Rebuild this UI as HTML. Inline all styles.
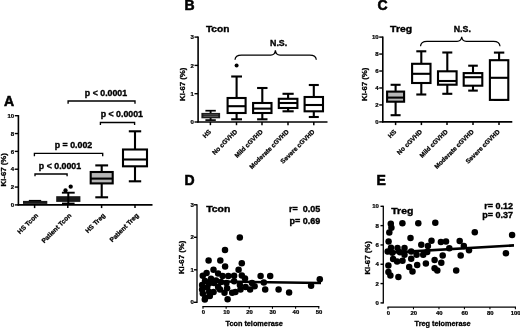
<!DOCTYPE html>
<html><head><meta charset="utf-8"><title>Figure</title>
<style>html,body{margin:0;padding:0;background:#fff;}svg{display:block;filter:grayscale(1) blur(0.35px);}</style>
</head><body>
<svg width="520" height="328" viewBox="0 0 520 328" font-family="Liberation Sans, sans-serif" font-weight="bold" fill="#000">
<rect width="520" height="328" fill="#fff"/>
<g>
<text x="4" y="105.5" font-size="14" text-anchor="start" stroke="#000" stroke-width="0.56" >A</text>
<line x1="18.40" y1="115.10" x2="18.40" y2="205.50" stroke="#000" stroke-width="1.6" stroke-linecap="butt"/>
<line x1="14.80" y1="204.90" x2="18.40" y2="204.90" stroke="#000" stroke-width="1.4" stroke-linecap="butt"/>
<text x="14.2" y="207.05" font-size="6.0" text-anchor="end" stroke="#000" stroke-width="0.24" >0</text>
<line x1="14.80" y1="187.06" x2="18.40" y2="187.06" stroke="#000" stroke-width="1.4" stroke-linecap="butt"/>
<text x="14.2" y="189.21" font-size="6.0" text-anchor="end" stroke="#000" stroke-width="0.24" >2</text>
<line x1="14.80" y1="169.22" x2="18.40" y2="169.22" stroke="#000" stroke-width="1.4" stroke-linecap="butt"/>
<text x="14.2" y="171.37" font-size="6.0" text-anchor="end" stroke="#000" stroke-width="0.24" >4</text>
<line x1="14.80" y1="151.38" x2="18.40" y2="151.38" stroke="#000" stroke-width="1.4" stroke-linecap="butt"/>
<text x="14.2" y="153.53" font-size="6.0" text-anchor="end" stroke="#000" stroke-width="0.24" >6</text>
<line x1="14.80" y1="133.54" x2="18.40" y2="133.54" stroke="#000" stroke-width="1.4" stroke-linecap="butt"/>
<text x="14.2" y="135.69000000000003" font-size="6.0" text-anchor="end" stroke="#000" stroke-width="0.24" >8</text>
<line x1="14.80" y1="115.70" x2="18.40" y2="115.70" stroke="#000" stroke-width="1.4" stroke-linecap="butt"/>
<text x="14.2" y="117.85000000000001" font-size="6.0" text-anchor="end" stroke="#000" stroke-width="0.24" >10</text>
<line x1="17.60" y1="204.90" x2="152.50" y2="204.90" stroke="#000" stroke-width="1.6" stroke-linecap="butt"/>
<text x="5.7" y="169.8" font-size="7.8" text-anchor="middle" transform="rotate(-90 5.7 169.8)" stroke="#000" stroke-width="0.31" >Ki-67 (%)</text>
<line x1="34.60" y1="204.90" x2="34.60" y2="208.10" stroke="#000" stroke-width="1.5" stroke-linecap="butt"/>
<line x1="67.80" y1="204.90" x2="67.80" y2="208.10" stroke="#000" stroke-width="1.5" stroke-linecap="butt"/>
<line x1="101.60" y1="204.90" x2="101.60" y2="208.10" stroke="#000" stroke-width="1.5" stroke-linecap="butt"/>
<line x1="135.00" y1="204.90" x2="135.00" y2="208.10" stroke="#000" stroke-width="1.5" stroke-linecap="butt"/>
<text x="38.6" y="215.9" font-size="6.6" text-anchor="end" transform="rotate(-45 38.6 215.9)" stroke="#000" stroke-width="0.26" >HS Tcon</text>
<text x="71.8" y="215.9" font-size="6.6" text-anchor="end" transform="rotate(-45 71.8 215.9)" stroke="#000" stroke-width="0.26" >Patient Tcon</text>
<text x="105.6" y="215.9" font-size="6.6" text-anchor="end" transform="rotate(-45 105.6 215.9)" stroke="#000" stroke-width="0.26" >HS Treg</text>
<text x="139" y="215.9" font-size="6.6" text-anchor="end" transform="rotate(-45 139 215.9)" stroke="#000" stroke-width="0.26" >Patient Treg</text>
<rect x="23" y="200.9" width="24.3" height="3.0" fill="#1a1a1a"/>
<line x1="28.80" y1="200.50" x2="41.20" y2="200.50" stroke="#000" stroke-width="1.2" stroke-linecap="butt"/>
<rect x="56.2" y="196.2" width="24.2" height="5.7" fill="#1a1a1a"/>
<line x1="68.30" y1="192.60" x2="68.30" y2="204.40" stroke="#000" stroke-width="2.0" stroke-linecap="butt"/>
<line x1="61.90" y1="192.70" x2="74.70" y2="192.70" stroke="#000" stroke-width="1.9" stroke-linecap="butt"/>
<line x1="62.00" y1="203.30" x2="74.60" y2="203.30" stroke="#000" stroke-width="1.4" stroke-linecap="butt"/>
<circle cx="65.50" cy="190.50" r="2.15" fill="#000"/>
<circle cx="70.70" cy="186.70" r="2.15" fill="#000"/>
<line x1="101.70" y1="165.40" x2="101.70" y2="172.00" stroke="#000" stroke-width="2.1" stroke-linecap="butt"/>
<line x1="101.70" y1="183.40" x2="101.70" y2="197.30" stroke="#000" stroke-width="2.1" stroke-linecap="butt"/>
<line x1="95.30" y1="165.40" x2="108.10" y2="165.40" stroke="#000" stroke-width="2.1" stroke-linecap="butt"/>
<line x1="95.30" y1="197.30" x2="108.10" y2="197.30" stroke="#000" stroke-width="2.1" stroke-linecap="butt"/>
<rect x="90.70" y="172.00" width="22.00" height="11.40" fill="#b6b6b6" stroke="#000" stroke-width="2.1"/>
<line x1="90.70" y1="178.60" x2="112.70" y2="178.60" stroke="#000" stroke-width="2.1" stroke-linecap="butt"/>
<line x1="135.00" y1="131.30" x2="135.00" y2="149.50" stroke="#000" stroke-width="2.1" stroke-linecap="butt"/>
<line x1="135.00" y1="166.30" x2="135.00" y2="181.30" stroke="#000" stroke-width="2.1" stroke-linecap="butt"/>
<line x1="128.80" y1="131.30" x2="141.20" y2="131.30" stroke="#000" stroke-width="2.1" stroke-linecap="butt"/>
<line x1="128.80" y1="181.30" x2="141.20" y2="181.30" stroke="#000" stroke-width="2.1" stroke-linecap="butt"/>
<rect x="123.00" y="149.50" width="24.00" height="16.80" fill="#fff" stroke="#000" stroke-width="2.1"/>
<line x1="123.00" y1="159.50" x2="147.00" y2="159.50" stroke="#000" stroke-width="2.1" stroke-linecap="butt"/>
<text x="106" y="96.3" font-size="8.8" text-anchor="middle" stroke="#000" stroke-width="0.35" >p &lt; 0.0001</text>
<path d="M68.10 103.70 V101.00 H135.00 V103.70" fill="none" stroke="#000" stroke-width="1.35"/>
<text x="121.8" y="117.3" font-size="8.8" text-anchor="middle" stroke="#000" stroke-width="0.35" >p &lt; 0.0001</text>
<path d="M100.40 125.00 V122.50 H134.60 V125.00" fill="none" stroke="#000" stroke-width="1.35"/>
<text x="73.5" y="148.1" font-size="8.8" text-anchor="middle" stroke="#000" stroke-width="0.35" >p = 0.002</text>
<path d="M34.40 156.20 V153.30 H102.70 V156.20" fill="none" stroke="#000" stroke-width="1.35"/>
<text x="60" y="168.7" font-size="8.8" text-anchor="middle" stroke="#000" stroke-width="0.35" >p &lt; 0.0001</text>
<path d="M35.00 176.30 V174.00 H67.10 V176.30" fill="none" stroke="#000" stroke-width="1.35"/>
<text x="184.5" y="10.3" font-size="14" text-anchor="start" stroke="#000" stroke-width="0.56" >B</text>
<text x="205.9" y="32.1" font-size="9.7" text-anchor="start" stroke="#000" stroke-width="0.39" textLength="23.5" lengthAdjust="spacingAndGlyphs">Tcon</text>
<line x1="198.10" y1="36.50" x2="198.10" y2="122.60" stroke="#000" stroke-width="1.6" stroke-linecap="butt"/>
<line x1="194.50" y1="122.00" x2="198.10" y2="122.00" stroke="#000" stroke-width="1.4" stroke-linecap="butt"/>
<text x="193.9" y="124.15" font-size="6.0" text-anchor="end" stroke="#000" stroke-width="0.24" >0</text>
<line x1="194.50" y1="93.70" x2="198.10" y2="93.70" stroke="#000" stroke-width="1.4" stroke-linecap="butt"/>
<text x="193.9" y="95.85000000000001" font-size="6.0" text-anchor="end" stroke="#000" stroke-width="0.24" >1</text>
<line x1="194.50" y1="65.40" x2="198.10" y2="65.40" stroke="#000" stroke-width="1.4" stroke-linecap="butt"/>
<text x="193.9" y="67.55000000000001" font-size="6.0" text-anchor="end" stroke="#000" stroke-width="0.24" >2</text>
<line x1="194.50" y1="37.10" x2="198.10" y2="37.10" stroke="#000" stroke-width="1.4" stroke-linecap="butt"/>
<text x="193.9" y="39.24999999999999" font-size="6.0" text-anchor="end" stroke="#000" stroke-width="0.24" >3</text>
<line x1="197.30" y1="122.00" x2="327.50" y2="122.00" stroke="#000" stroke-width="1.6" stroke-linecap="butt"/>
<text x="185" y="84.3" font-size="7.8" text-anchor="middle" transform="rotate(-90 185 84.3)" stroke="#000" stroke-width="0.31" >Ki-67 (%)</text>
<line x1="210.40" y1="122.00" x2="210.40" y2="125.20" stroke="#000" stroke-width="1.5" stroke-linecap="butt"/>
<text x="211.6" y="132.2" font-size="6.45" text-anchor="end" transform="rotate(-45 211.6 132.2)" stroke="#000" stroke-width="0.26" >HS</text>
<line x1="236.50" y1="122.00" x2="236.50" y2="125.20" stroke="#000" stroke-width="1.5" stroke-linecap="butt"/>
<text x="237.7" y="132.2" font-size="6.45" text-anchor="end" transform="rotate(-45 237.7 132.2)" stroke="#000" stroke-width="0.26" >No cGVHD</text>
<line x1="262.00" y1="122.00" x2="262.00" y2="125.20" stroke="#000" stroke-width="1.5" stroke-linecap="butt"/>
<text x="263.2" y="132.2" font-size="6.45" text-anchor="end" transform="rotate(-45 263.2 132.2)" stroke="#000" stroke-width="0.26" >Mild cGVHD</text>
<line x1="288.00" y1="122.00" x2="288.00" y2="125.20" stroke="#000" stroke-width="1.5" stroke-linecap="butt"/>
<text x="289.2" y="132.2" font-size="6.45" text-anchor="end" transform="rotate(-45 289.2 132.2)" stroke="#000" stroke-width="0.26" >Moderate cGVHD</text>
<line x1="313.80" y1="122.00" x2="313.80" y2="125.20" stroke="#000" stroke-width="1.5" stroke-linecap="butt"/>
<text x="315.0" y="132.2" font-size="6.45" text-anchor="end" transform="rotate(-45 315.0 132.2)" stroke="#000" stroke-width="0.26" >Severe cGVHD</text>
<line x1="210.60" y1="110.60" x2="210.60" y2="120.20" stroke="#000" stroke-width="1.9" stroke-linecap="butt"/>
<line x1="205.40" y1="110.70" x2="215.80" y2="110.70" stroke="#000" stroke-width="1.7" stroke-linecap="butt"/>
<line x1="205.40" y1="120.10" x2="215.80" y2="120.10" stroke="#000" stroke-width="1.7" stroke-linecap="butt"/>
<rect x="201.4" y="112.9" width="18.7" height="5.4" fill="#1c1c1c"/>
<rect x="203.4" y="114.6" width="14.7" height="0.6" fill="#777"/>
<rect x="203.4" y="116.3" width="14.7" height="0.6" fill="#777"/>
<line x1="236.60" y1="76.50" x2="236.60" y2="98.00" stroke="#000" stroke-width="2.1" stroke-linecap="butt"/>
<line x1="236.60" y1="113.00" x2="236.60" y2="119.30" stroke="#000" stroke-width="2.1" stroke-linecap="butt"/>
<line x1="231.20" y1="76.50" x2="242.00" y2="76.50" stroke="#000" stroke-width="2.1" stroke-linecap="butt"/>
<line x1="231.20" y1="119.30" x2="242.00" y2="119.30" stroke="#000" stroke-width="2.1" stroke-linecap="butt"/>
<rect x="227.60" y="98.00" width="18.00" height="15.00" fill="#fff" stroke="#000" stroke-width="2.1"/>
<line x1="227.60" y1="106.20" x2="245.60" y2="106.20" stroke="#000" stroke-width="2.1" stroke-linecap="butt"/>
<circle cx="236.60" cy="65.60" r="2.0" fill="#000"/>
<line x1="262.30" y1="88.00" x2="262.30" y2="103.00" stroke="#000" stroke-width="2.1" stroke-linecap="butt"/>
<line x1="262.30" y1="113.00" x2="262.30" y2="119.30" stroke="#000" stroke-width="2.1" stroke-linecap="butt"/>
<line x1="257.10" y1="88.00" x2="267.50" y2="88.00" stroke="#000" stroke-width="2.1" stroke-linecap="butt"/>
<line x1="257.10" y1="119.30" x2="267.50" y2="119.30" stroke="#000" stroke-width="2.1" stroke-linecap="butt"/>
<rect x="253.10" y="103.00" width="18.40" height="10.00" fill="#fff" stroke="#000" stroke-width="2.1"/>
<line x1="253.10" y1="108.60" x2="271.50" y2="108.60" stroke="#000" stroke-width="2.1" stroke-linecap="butt"/>
<line x1="288.10" y1="93.80" x2="288.10" y2="98.80" stroke="#000" stroke-width="2.1" stroke-linecap="butt"/>
<line x1="288.10" y1="108.00" x2="288.10" y2="111.30" stroke="#000" stroke-width="2.1" stroke-linecap="butt"/>
<line x1="282.50" y1="93.80" x2="293.70" y2="93.80" stroke="#000" stroke-width="2.1" stroke-linecap="butt"/>
<line x1="282.50" y1="111.30" x2="293.70" y2="111.30" stroke="#000" stroke-width="2.1" stroke-linecap="butt"/>
<rect x="278.80" y="98.80" width="18.60" height="9.20" fill="#fff" stroke="#000" stroke-width="2.1"/>
<line x1="278.80" y1="103.00" x2="297.40" y2="103.00" stroke="#000" stroke-width="2.1" stroke-linecap="butt"/>
<line x1="313.80" y1="85.00" x2="313.80" y2="97.00" stroke="#000" stroke-width="2.1" stroke-linecap="butt"/>
<line x1="313.80" y1="111.30" x2="313.80" y2="117.00" stroke="#000" stroke-width="2.1" stroke-linecap="butt"/>
<line x1="308.80" y1="85.00" x2="318.80" y2="85.00" stroke="#000" stroke-width="2.1" stroke-linecap="butt"/>
<line x1="308.80" y1="117.00" x2="318.80" y2="117.00" stroke="#000" stroke-width="2.1" stroke-linecap="butt"/>
<rect x="304.60" y="97.00" width="18.40" height="14.30" fill="#fff" stroke="#000" stroke-width="2.1"/>
<line x1="304.60" y1="105.00" x2="323.00" y2="105.00" stroke="#000" stroke-width="2.1" stroke-linecap="butt"/>
<text x="278.6" y="45.8" font-size="8.8" text-anchor="middle" stroke="#000" stroke-width="0.35" >N.S.</text>
<path d="M235.00 59.80 Q235.30 55.00 241.50 55.00 H270.80 Q275.00 55.00 275.40 50.20 Q275.80 55.00 280.00 55.00 H309.80 Q316.00 55.00 316.30 59.80" fill="none" stroke="#000" stroke-width="1.25"/>
<text x="377.5" y="10.3" font-size="14" text-anchor="start" stroke="#000" stroke-width="0.56" >C</text>
<text x="390.1" y="32.1" font-size="9.7" text-anchor="start" stroke="#000" stroke-width="0.39" textLength="22" lengthAdjust="spacingAndGlyphs">Treg</text>
<line x1="382.80" y1="36.50" x2="382.80" y2="122.50" stroke="#000" stroke-width="1.6" stroke-linecap="butt"/>
<line x1="379.20" y1="121.90" x2="382.80" y2="121.90" stroke="#000" stroke-width="1.4" stroke-linecap="butt"/>
<text x="378.6" y="124.05000000000001" font-size="6.0" text-anchor="end" stroke="#000" stroke-width="0.24" >0</text>
<line x1="379.20" y1="104.94" x2="382.80" y2="104.94" stroke="#000" stroke-width="1.4" stroke-linecap="butt"/>
<text x="378.6" y="107.09" font-size="6.0" text-anchor="end" stroke="#000" stroke-width="0.24" >2</text>
<line x1="379.20" y1="87.98" x2="382.80" y2="87.98" stroke="#000" stroke-width="1.4" stroke-linecap="butt"/>
<text x="378.6" y="90.13000000000001" font-size="6.0" text-anchor="end" stroke="#000" stroke-width="0.24" >4</text>
<line x1="379.20" y1="71.02" x2="382.80" y2="71.02" stroke="#000" stroke-width="1.4" stroke-linecap="butt"/>
<text x="378.6" y="73.17000000000002" font-size="6.0" text-anchor="end" stroke="#000" stroke-width="0.24" >6</text>
<line x1="379.20" y1="54.06" x2="382.80" y2="54.06" stroke="#000" stroke-width="1.4" stroke-linecap="butt"/>
<text x="378.6" y="56.21" font-size="6.0" text-anchor="end" stroke="#000" stroke-width="0.24" >8</text>
<line x1="379.20" y1="37.10" x2="382.80" y2="37.10" stroke="#000" stroke-width="1.4" stroke-linecap="butt"/>
<text x="378.6" y="39.24999999999999" font-size="6.0" text-anchor="end" stroke="#000" stroke-width="0.24" >10</text>
<line x1="382.00" y1="121.90" x2="512.30" y2="121.90" stroke="#000" stroke-width="1.6" stroke-linecap="butt"/>
<text x="367" y="84.3" font-size="7.8" text-anchor="middle" transform="rotate(-90 367 84.3)" stroke="#000" stroke-width="0.31" >Ki-67 (%)</text>
<line x1="395.60" y1="121.90" x2="395.60" y2="125.10" stroke="#000" stroke-width="1.5" stroke-linecap="butt"/>
<text x="396.8" y="132.1" font-size="6.45" text-anchor="end" transform="rotate(-45 396.8 132.1)" stroke="#000" stroke-width="0.26" >HS</text>
<line x1="421.40" y1="121.90" x2="421.40" y2="125.10" stroke="#000" stroke-width="1.5" stroke-linecap="butt"/>
<text x="422.59999999999997" y="132.1" font-size="6.45" text-anchor="end" transform="rotate(-45 422.59999999999997 132.1)" stroke="#000" stroke-width="0.26" >No cGVHD</text>
<line x1="447.00" y1="121.90" x2="447.00" y2="125.10" stroke="#000" stroke-width="1.5" stroke-linecap="butt"/>
<text x="448.2" y="132.1" font-size="6.45" text-anchor="end" transform="rotate(-45 448.2 132.1)" stroke="#000" stroke-width="0.26" >Mild cGVHD</text>
<line x1="473.00" y1="121.90" x2="473.00" y2="125.10" stroke="#000" stroke-width="1.5" stroke-linecap="butt"/>
<text x="474.2" y="132.1" font-size="6.45" text-anchor="end" transform="rotate(-45 474.2 132.1)" stroke="#000" stroke-width="0.26" >Moderate cGVHD</text>
<line x1="499.00" y1="121.90" x2="499.00" y2="125.10" stroke="#000" stroke-width="1.5" stroke-linecap="butt"/>
<text x="500.2" y="132.1" font-size="6.45" text-anchor="end" transform="rotate(-45 500.2 132.1)" stroke="#000" stroke-width="0.26" >Severe cGVHD</text>
<line x1="395.60" y1="84.80" x2="395.60" y2="91.60" stroke="#000" stroke-width="2.1" stroke-linecap="butt"/>
<line x1="395.60" y1="101.70" x2="395.60" y2="115.20" stroke="#000" stroke-width="2.1" stroke-linecap="butt"/>
<line x1="390.60" y1="84.80" x2="400.60" y2="84.80" stroke="#000" stroke-width="2.1" stroke-linecap="butt"/>
<line x1="390.60" y1="115.20" x2="400.60" y2="115.20" stroke="#000" stroke-width="2.1" stroke-linecap="butt"/>
<rect x="387.10" y="91.60" width="17.00" height="10.10" fill="#b6b6b6" stroke="#000" stroke-width="2.1"/>
<line x1="387.10" y1="97.60" x2="404.10" y2="97.60" stroke="#000" stroke-width="2.1" stroke-linecap="butt"/>
<line x1="421.30" y1="51.30" x2="421.30" y2="63.80" stroke="#000" stroke-width="2.1" stroke-linecap="butt"/>
<line x1="421.30" y1="83.00" x2="421.30" y2="94.50" stroke="#000" stroke-width="2.1" stroke-linecap="butt"/>
<line x1="416.30" y1="51.30" x2="426.30" y2="51.30" stroke="#000" stroke-width="2.1" stroke-linecap="butt"/>
<line x1="416.30" y1="94.50" x2="426.30" y2="94.50" stroke="#000" stroke-width="2.1" stroke-linecap="butt"/>
<rect x="412.10" y="63.80" width="18.40" height="19.20" fill="#fff" stroke="#000" stroke-width="2.1"/>
<line x1="412.10" y1="73.80" x2="430.50" y2="73.80" stroke="#000" stroke-width="2.1" stroke-linecap="butt"/>
<line x1="447.30" y1="52.50" x2="447.30" y2="71.30" stroke="#000" stroke-width="2.1" stroke-linecap="butt"/>
<line x1="447.30" y1="84.70" x2="447.30" y2="93.80" stroke="#000" stroke-width="2.1" stroke-linecap="butt"/>
<line x1="442.30" y1="52.50" x2="452.30" y2="52.50" stroke="#000" stroke-width="2.1" stroke-linecap="butt"/>
<line x1="442.30" y1="93.80" x2="452.30" y2="93.80" stroke="#000" stroke-width="2.1" stroke-linecap="butt"/>
<rect x="438.00" y="71.30" width="18.60" height="13.40" fill="#fff" stroke="#000" stroke-width="2.1"/>
<line x1="438.00" y1="81.00" x2="456.60" y2="81.00" stroke="#000" stroke-width="2.1" stroke-linecap="butt"/>
<line x1="473.00" y1="65.70" x2="473.00" y2="73.10" stroke="#000" stroke-width="2.1" stroke-linecap="butt"/>
<line x1="473.00" y1="85.70" x2="473.00" y2="90.60" stroke="#000" stroke-width="2.1" stroke-linecap="butt"/>
<line x1="468.20" y1="65.70" x2="477.80" y2="65.70" stroke="#000" stroke-width="2.1" stroke-linecap="butt"/>
<line x1="468.20" y1="90.60" x2="477.80" y2="90.60" stroke="#000" stroke-width="2.1" stroke-linecap="butt"/>
<rect x="463.70" y="73.10" width="18.60" height="12.60" fill="#fff" stroke="#000" stroke-width="2.1"/>
<line x1="463.70" y1="77.20" x2="482.30" y2="77.20" stroke="#000" stroke-width="2.1" stroke-linecap="butt"/>
<line x1="499.10" y1="52.60" x2="499.10" y2="60.20" stroke="#000" stroke-width="2.1" stroke-linecap="butt"/>
<line x1="499.10" y1="99.90" x2="499.10" y2="99.90" stroke="#000" stroke-width="2.1" stroke-linecap="butt"/>
<line x1="493.90" y1="52.60" x2="504.30" y2="52.60" stroke="#000" stroke-width="2.1" stroke-linecap="butt"/>
<line x1="493.90" y1="99.90" x2="504.30" y2="99.90" stroke="#000" stroke-width="2.1" stroke-linecap="butt"/>
<rect x="489.90" y="60.20" width="18.40" height="39.70" fill="#fff" stroke="#000" stroke-width="2.1"/>
<line x1="489.90" y1="77.80" x2="508.30" y2="77.80" stroke="#000" stroke-width="2.1" stroke-linecap="butt"/>
<text x="462.3" y="32.4" font-size="8.8" text-anchor="middle" stroke="#000" stroke-width="0.35" >N.S.</text>
<path d="M420.50 46.30 Q420.80 41.30 427.00 41.30 H457.10 Q461.30 41.30 461.70 36.80 Q462.10 41.30 466.30 41.30 H493.50 Q499.70 41.30 500.00 46.30" fill="none" stroke="#000" stroke-width="1.25"/>
<text x="184.5" y="185.3" font-size="14" text-anchor="start" stroke="#000" stroke-width="0.56" >D</text>
<text x="206.2" y="211.7" font-size="9.7" text-anchor="start" stroke="#000" stroke-width="0.39" textLength="24.2" lengthAdjust="spacingAndGlyphs">Tcon</text>
<line x1="197.00" y1="204.20" x2="197.00" y2="302.90" stroke="#000" stroke-width="1.3" stroke-linecap="butt"/>
<line x1="193.90" y1="302.30" x2="197.00" y2="302.30" stroke="#000" stroke-width="1.4" stroke-linecap="butt"/>
<text x="193.8" y="304.45" font-size="6.0" text-anchor="end" stroke="#000" stroke-width="0.24" >0</text>
<line x1="193.90" y1="269.80" x2="197.00" y2="269.80" stroke="#000" stroke-width="1.4" stroke-linecap="butt"/>
<text x="193.8" y="271.95" font-size="6.0" text-anchor="end" stroke="#000" stroke-width="0.24" >1</text>
<line x1="193.90" y1="237.30" x2="197.00" y2="237.30" stroke="#000" stroke-width="1.4" stroke-linecap="butt"/>
<text x="193.8" y="239.45000000000002" font-size="6.0" text-anchor="end" stroke="#000" stroke-width="0.24" >2</text>
<line x1="193.90" y1="204.80" x2="197.00" y2="204.80" stroke="#000" stroke-width="1.4" stroke-linecap="butt"/>
<text x="193.8" y="206.95000000000002" font-size="6.0" text-anchor="end" stroke="#000" stroke-width="0.24" >3</text>
<line x1="202.40" y1="306.60" x2="319.35" y2="306.60" stroke="#000" stroke-width="1.2" stroke-linecap="butt"/>
<line x1="203.00" y1="306.60" x2="203.00" y2="308.80" stroke="#000" stroke-width="1.1" stroke-linecap="butt"/>
<text x="203.3" y="314.20000000000005" font-size="5.9" text-anchor="middle" stroke="#000" stroke-width="0.24" >0</text>
<line x1="226.15" y1="306.60" x2="226.15" y2="308.80" stroke="#000" stroke-width="1.1" stroke-linecap="butt"/>
<text x="226.45000000000002" y="314.20000000000005" font-size="5.9" text-anchor="middle" stroke="#000" stroke-width="0.24" >10</text>
<line x1="249.30" y1="306.60" x2="249.30" y2="308.80" stroke="#000" stroke-width="1.1" stroke-linecap="butt"/>
<text x="249.60000000000002" y="314.20000000000005" font-size="5.9" text-anchor="middle" stroke="#000" stroke-width="0.24" >20</text>
<line x1="272.45" y1="306.60" x2="272.45" y2="308.80" stroke="#000" stroke-width="1.1" stroke-linecap="butt"/>
<text x="272.75" y="314.20000000000005" font-size="5.9" text-anchor="middle" stroke="#000" stroke-width="0.24" >30</text>
<line x1="295.60" y1="306.60" x2="295.60" y2="308.80" stroke="#000" stroke-width="1.1" stroke-linecap="butt"/>
<text x="295.90000000000003" y="314.20000000000005" font-size="5.9" text-anchor="middle" stroke="#000" stroke-width="0.24" >40</text>
<line x1="318.75" y1="306.60" x2="318.75" y2="308.80" stroke="#000" stroke-width="1.1" stroke-linecap="butt"/>
<text x="319.05" y="314.20000000000005" font-size="5.9" text-anchor="middle" stroke="#000" stroke-width="0.24" >50</text>
<text x="184" y="257.4" font-size="7.8" text-anchor="middle" transform="rotate(-90 184 257.4)" stroke="#000" stroke-width="0.31" >Ki-67 (%)</text>
<text x="254.2" y="325.8" font-size="7.3" text-anchor="middle" stroke="#000" stroke-width="0.29" >Tcon telomerase</text>
<text x="289.1" y="212.4" font-size="9.0" text-anchor="start" stroke="#000" stroke-width="0.36" >r=</text>
<text x="320.2" y="212.4" font-size="9.0" text-anchor="end" stroke="#000" stroke-width="0.36" >0.05</text>
<text x="320.2" y="223.6" font-size="9.0" text-anchor="end" stroke="#000" stroke-width="0.36" >p= 0.69</text>
<circle cx="239.80" cy="237.60" r="3.25" fill="#000"/>
<circle cx="225.00" cy="250.00" r="3.25" fill="#000"/>
<circle cx="208.60" cy="260.40" r="3.25" fill="#000"/>
<circle cx="220.30" cy="260.40" r="3.25" fill="#000"/>
<circle cx="241.80" cy="263.20" r="3.25" fill="#000"/>
<circle cx="225.10" cy="266.60" r="3.25" fill="#000"/>
<circle cx="213.50" cy="269.80" r="3.25" fill="#000"/>
<circle cx="238.60" cy="269.80" r="3.25" fill="#000"/>
<circle cx="206.60" cy="272.90" r="3.25" fill="#000"/>
<circle cx="218.10" cy="273.50" r="3.25" fill="#000"/>
<circle cx="202.80" cy="275.80" r="3.25" fill="#000"/>
<circle cx="222.60" cy="276.10" r="3.25" fill="#000"/>
<circle cx="228.30" cy="276.10" r="3.25" fill="#000"/>
<circle cx="234.10" cy="275.80" r="3.25" fill="#000"/>
<circle cx="241.80" cy="275.40" r="3.25" fill="#000"/>
<circle cx="260.60" cy="276.10" r="3.25" fill="#000"/>
<circle cx="270.20" cy="276.10" r="3.25" fill="#000"/>
<circle cx="245.00" cy="278.60" r="3.25" fill="#000"/>
<circle cx="211.00" cy="278.80" r="3.25" fill="#000"/>
<circle cx="226.40" cy="283.10" r="3.25" fill="#000"/>
<circle cx="234.10" cy="281.20" r="3.25" fill="#000"/>
<circle cx="252.00" cy="283.10" r="3.25" fill="#000"/>
<circle cx="263.80" cy="282.50" r="3.25" fill="#000"/>
<circle cx="202.10" cy="285.00" r="3.25" fill="#000"/>
<circle cx="207.20" cy="287.60" r="3.25" fill="#000"/>
<circle cx="218.10" cy="287.00" r="3.25" fill="#000"/>
<circle cx="227.10" cy="288.20" r="3.25" fill="#000"/>
<circle cx="239.90" cy="285.00" r="3.25" fill="#000"/>
<circle cx="245.60" cy="287.00" r="3.25" fill="#000"/>
<circle cx="254.60" cy="286.30" r="3.25" fill="#000"/>
<circle cx="202.10" cy="289.50" r="3.25" fill="#000"/>
<circle cx="220.00" cy="289.50" r="3.25" fill="#000"/>
<circle cx="240.50" cy="289.50" r="3.25" fill="#000"/>
<circle cx="250.10" cy="289.50" r="3.25" fill="#000"/>
<circle cx="265.20" cy="289.60" r="3.25" fill="#000"/>
<circle cx="278.60" cy="289.60" r="3.25" fill="#000"/>
<circle cx="209.20" cy="292.10" r="3.25" fill="#000"/>
<circle cx="213.60" cy="292.10" r="3.25" fill="#000"/>
<circle cx="224.50" cy="292.70" r="3.25" fill="#000"/>
<circle cx="232.20" cy="292.70" r="3.25" fill="#000"/>
<circle cx="235.40" cy="292.10" r="3.25" fill="#000"/>
<circle cx="289.10" cy="292.50" r="3.25" fill="#000"/>
<circle cx="202.80" cy="293.40" r="3.25" fill="#000"/>
<circle cx="209.80" cy="295.90" r="3.25" fill="#000"/>
<circle cx="205.30" cy="297.80" r="3.25" fill="#000"/>
<circle cx="227.60" cy="299.20" r="3.25" fill="#000"/>
<circle cx="319.80" cy="279.20" r="3.25" fill="#000"/>
<circle cx="311.10" cy="285.70" r="3.25" fill="#000"/>
<circle cx="205.00" cy="281.00" r="3.25" fill="#000"/>
<circle cx="214.00" cy="283.00" r="3.25" fill="#000"/>
<circle cx="209.00" cy="283.50" r="3.25" fill="#000"/>
<circle cx="221.00" cy="282.00" r="3.25" fill="#000"/>
<circle cx="216.00" cy="280.50" r="3.25" fill="#000"/>
<circle cx="204.80" cy="299.40" r="3.25" fill="#000"/>
<line x1="202.80" y1="281.30" x2="321.00" y2="283.00" stroke="#000" stroke-width="2.5" stroke-linecap="butt"/>
<text x="376.5" y="185.3" font-size="14" text-anchor="start" stroke="#000" stroke-width="0.56" >E</text>
<text x="391.3" y="213.7" font-size="9.7" text-anchor="start" stroke="#000" stroke-width="0.39" textLength="22" lengthAdjust="spacingAndGlyphs">Treg</text>
<line x1="383.30" y1="205.70" x2="383.30" y2="303.50" stroke="#000" stroke-width="1.3" stroke-linecap="butt"/>
<line x1="380.50" y1="302.90" x2="383.30" y2="302.90" stroke="#000" stroke-width="1.4" stroke-linecap="butt"/>
<text x="378.90000000000003" y="305.04999999999995" font-size="6.0" text-anchor="end" stroke="#000" stroke-width="0.24" >0</text>
<line x1="380.50" y1="283.58" x2="383.30" y2="283.58" stroke="#000" stroke-width="1.4" stroke-linecap="butt"/>
<text x="378.90000000000003" y="285.72999999999996" font-size="6.0" text-anchor="end" stroke="#000" stroke-width="0.24" >2</text>
<line x1="380.50" y1="264.26" x2="383.30" y2="264.26" stroke="#000" stroke-width="1.4" stroke-linecap="butt"/>
<text x="378.90000000000003" y="266.40999999999997" font-size="6.0" text-anchor="end" stroke="#000" stroke-width="0.24" >4</text>
<line x1="380.50" y1="244.94" x2="383.30" y2="244.94" stroke="#000" stroke-width="1.4" stroke-linecap="butt"/>
<text x="378.90000000000003" y="247.08999999999997" font-size="6.0" text-anchor="end" stroke="#000" stroke-width="0.24" >6</text>
<line x1="380.50" y1="225.62" x2="383.30" y2="225.62" stroke="#000" stroke-width="1.4" stroke-linecap="butt"/>
<text x="378.90000000000003" y="227.76999999999998" font-size="6.0" text-anchor="end" stroke="#000" stroke-width="0.24" >8</text>
<line x1="380.50" y1="206.30" x2="383.30" y2="206.30" stroke="#000" stroke-width="1.4" stroke-linecap="butt"/>
<text x="378.90000000000003" y="208.45" font-size="6.0" text-anchor="end" stroke="#000" stroke-width="0.24" >10</text>
<line x1="387.40" y1="307.10" x2="516.00" y2="307.10" stroke="#000" stroke-width="1.2" stroke-linecap="butt"/>
<line x1="388.00" y1="307.10" x2="388.00" y2="309.30" stroke="#000" stroke-width="1.1" stroke-linecap="butt"/>
<text x="388.3" y="315.1" font-size="5.9" text-anchor="middle" stroke="#000" stroke-width="0.24" >0</text>
<line x1="413.48" y1="307.10" x2="413.48" y2="309.30" stroke="#000" stroke-width="1.1" stroke-linecap="butt"/>
<text x="413.78000000000003" y="315.1" font-size="5.9" text-anchor="middle" stroke="#000" stroke-width="0.24" >20</text>
<line x1="438.96" y1="307.10" x2="438.96" y2="309.30" stroke="#000" stroke-width="1.1" stroke-linecap="butt"/>
<text x="439.26" y="315.1" font-size="5.9" text-anchor="middle" stroke="#000" stroke-width="0.24" >40</text>
<line x1="464.44" y1="307.10" x2="464.44" y2="309.30" stroke="#000" stroke-width="1.1" stroke-linecap="butt"/>
<text x="464.74" y="315.1" font-size="5.9" text-anchor="middle" stroke="#000" stroke-width="0.24" >60</text>
<line x1="489.92" y1="307.10" x2="489.92" y2="309.30" stroke="#000" stroke-width="1.1" stroke-linecap="butt"/>
<text x="490.22" y="315.1" font-size="5.9" text-anchor="middle" stroke="#000" stroke-width="0.24" >80</text>
<line x1="515.40" y1="307.10" x2="515.40" y2="309.30" stroke="#000" stroke-width="1.1" stroke-linecap="butt"/>
<text x="515.6999999999999" y="315.1" font-size="5.9" text-anchor="middle" stroke="#000" stroke-width="0.24" >100</text>
<text x="370" y="257.9" font-size="7.8" text-anchor="middle" transform="rotate(-90 370 257.9)" stroke="#000" stroke-width="0.31" >Ki-67 (%)</text>
<text x="442.6" y="326.1" font-size="7.3" text-anchor="middle" stroke="#000" stroke-width="0.29" >Treg telomerase</text>
<text x="513.1" y="209.1" font-size="9.0" text-anchor="end" stroke="#000" stroke-width="0.36" >r= 0.12</text>
<text x="513.1" y="218.2" font-size="9.0" text-anchor="end" stroke="#000" stroke-width="0.36" >p= 0.37</text>
<circle cx="390.80" cy="223.70" r="3.25" fill="#000"/>
<circle cx="402.40" cy="223.30" r="3.25" fill="#000"/>
<circle cx="418.30" cy="223.30" r="3.25" fill="#000"/>
<circle cx="435.30" cy="222.70" r="3.25" fill="#000"/>
<circle cx="391.40" cy="227.80" r="3.25" fill="#000"/>
<circle cx="389.30" cy="232.60" r="3.25" fill="#000"/>
<circle cx="474.80" cy="232.20" r="3.25" fill="#000"/>
<circle cx="512.10" cy="235.10" r="3.25" fill="#000"/>
<circle cx="410.50" cy="238.00" r="3.25" fill="#000"/>
<circle cx="388.60" cy="241.40" r="3.25" fill="#000"/>
<circle cx="431.50" cy="240.70" r="3.25" fill="#000"/>
<circle cx="440.90" cy="242.00" r="3.25" fill="#000"/>
<circle cx="446.00" cy="241.40" r="3.25" fill="#000"/>
<circle cx="459.70" cy="240.90" r="3.25" fill="#000"/>
<circle cx="421.30" cy="244.70" r="3.25" fill="#000"/>
<circle cx="427.90" cy="246.10" r="3.25" fill="#000"/>
<circle cx="463.80" cy="246.10" r="3.25" fill="#000"/>
<circle cx="391.00" cy="247.80" r="3.25" fill="#000"/>
<circle cx="397.50" cy="248.10" r="3.25" fill="#000"/>
<circle cx="404.50" cy="248.10" r="3.25" fill="#000"/>
<circle cx="449.30" cy="248.20" r="3.25" fill="#000"/>
<circle cx="469.00" cy="250.20" r="3.25" fill="#000"/>
<circle cx="387.70" cy="251.40" r="3.25" fill="#000"/>
<circle cx="411.20" cy="251.40" r="3.25" fill="#000"/>
<circle cx="427.20" cy="252.10" r="3.25" fill="#000"/>
<circle cx="392.40" cy="252.80" r="3.25" fill="#000"/>
<circle cx="400.00" cy="252.30" r="3.25" fill="#000"/>
<circle cx="416.60" cy="254.80" r="3.25" fill="#000"/>
<circle cx="423.20" cy="254.80" r="3.25" fill="#000"/>
<circle cx="404.50" cy="254.80" r="3.25" fill="#000"/>
<circle cx="442.70" cy="255.40" r="3.25" fill="#000"/>
<circle cx="460.70" cy="255.40" r="3.25" fill="#000"/>
<circle cx="505.90" cy="253.30" r="3.25" fill="#000"/>
<circle cx="411.20" cy="258.80" r="3.25" fill="#000"/>
<circle cx="434.60" cy="260.10" r="3.25" fill="#000"/>
<circle cx="393.10" cy="259.10" r="3.25" fill="#000"/>
<circle cx="397.10" cy="261.50" r="3.25" fill="#000"/>
<circle cx="402.50" cy="260.80" r="3.25" fill="#000"/>
<circle cx="425.90" cy="263.50" r="3.25" fill="#000"/>
<circle cx="441.30" cy="262.80" r="3.25" fill="#000"/>
<circle cx="417.20" cy="264.90" r="3.25" fill="#000"/>
<circle cx="388.40" cy="265.50" r="3.25" fill="#000"/>
<circle cx="409.20" cy="266.90" r="3.25" fill="#000"/>
<circle cx="434.60" cy="268.20" r="3.25" fill="#000"/>
<circle cx="437.30" cy="270.60" r="3.25" fill="#000"/>
<circle cx="412.50" cy="271.60" r="3.25" fill="#000"/>
<circle cx="388.40" cy="272.00" r="3.25" fill="#000"/>
<circle cx="456.20" cy="270.50" r="3.25" fill="#000"/>
<circle cx="390.40" cy="275.60" r="3.25" fill="#000"/>
<circle cx="398.40" cy="276.90" r="3.25" fill="#000"/>
<line x1="386.20" y1="252.80" x2="514.00" y2="245.40" stroke="#000" stroke-width="2.7" stroke-linecap="butt"/>
</g>
</svg>
</body></html>
